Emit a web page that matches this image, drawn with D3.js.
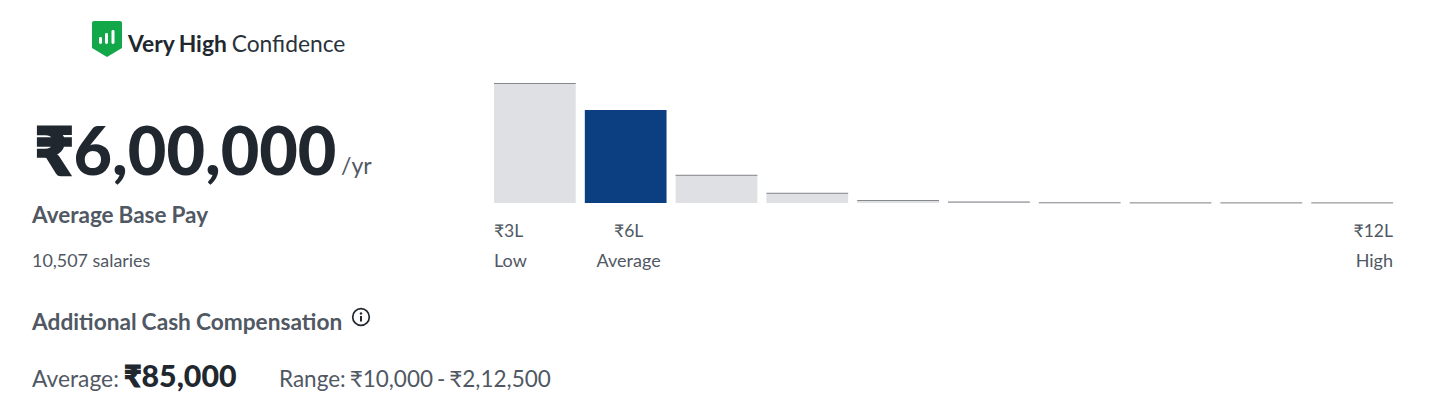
<!DOCTYPE html>
<html><head><meta charset="utf-8">
<script src="https://cdn.jsdelivr.net/npm/d3@7/dist/d3.min.js"></script>
<style>
html,body{margin:0;padding:0;background:#fff;overflow:hidden}
svg{display:block}
text{font-family:Lato,"Open Sans",sans-serif}
</style></head><body>
<div id="chart"></div>
<script>
const bins = ["b1","b2","b3","b4","b5","b6","b7","b8","b9","b10"];
const shares = [100, 77.5, 23.5, 8.5, 2.5, 1.2, 0.6, 0.5, 0.5, 0.5];
const highlightBin = "b2";
const axisLabels = ["₹3L","₹6L","₹12L"];
const axisRoles = ["Low","Average","High"];
const W=1434,H=408;
const svg=d3.select("#chart").append("svg").attr("width",W).attr("height",H);
const x=d3.scaleBand().domain(bins).range([494,1393]).paddingInner(0.1);
const y=d3.scaleLinear().domain([0,100]).range([203,83]);
svg.selectAll("rect.bar").data(bins).join("rect").attr("class","bar")
  .attr("x",d=>x(d)).attr("width",x.bandwidth())
  .attr("y",(d,i)=>y(shares[i])).attr("height",(d,i)=>y(0)-y(shares[i]))
  .attr("fill",d=>d===highlightBin?"#0c3e82":"#dfe0e3");
svg.selectAll("rect.cap").data(bins.filter(d=>d!==highlightBin)).join("rect").attr("class","cap")
  .attr("x",d=>x(d)).attr("width",x.bandwidth())
  .attr("y",d=>y(shares[bins.indexOf(d)])).attr("height",1)
  .attr("fill","#85888c");
function t(s,px,py,size,weight,fill,anchor){
  return svg.append("text").text(s).attr("x",px).attr("y",py).attr("font-size",size)
    .attr("font-weight",weight).attr("fill",fill).attr("text-anchor",anchor||"start");
}
function heavy(rupeeStroke,px,py,size,rest){
  const n=t("",px,py,size,900,"#20272f");
  n.append("tspan").text("₹").attr("stroke","#20272f").attr("stroke-width",rupeeStroke);
  n.append("tspan").text(rest);
  return n;
}
const labelC="#505863";
const ax=[[494,"start"],[x("b2")+x.bandwidth()/2+3,"middle"],[1393,"end"]];
axisLabels.forEach((s,i)=>t(s,ax[i][0],237,17.5,400,labelC,ax[i][1]));
axisRoles.forEach((s,i)=>t(s,ax[i][0],267,18,400,labelC,ax[i][1]));

// confidence badge
const g=svg.append("g");
g.append("path").attr("d","M94 21 H120 Q122 21 122 23 V48 L107 57 L92 48 V23 Q92 21 94 21 Z").attr("fill","#12a84a");
[[99,37,3,7],[105,33,3,11],[111.5,30,3,14]].forEach(b=>g.append("rect").attr("x",b[0]).attr("y",b[1]).attr("width",b[2]).attr("height",b[3]).attr("rx",1.4).attr("fill","#fff"));
const c=t("",128,52,22.8,400,"#20272f").attr("word-spacing",-1);
c.append("tspan").text("Very High").attr("font-weight",700);
c.append("tspan").text(" Confidence").attr("fill","#2a323b");

heavy(2.5,35,175,66.5,"6,00,000");
t("/yr",341,174,23,400,"#505863");
t("Average Base Pay",32,223,22.5,700,"#505863").attr("word-spacing",-0.5);
t("10,507 salaries",32,267,17.9,400,labelC);
t("Additional Cash Compensation",32,330,22.7,700,"#505863").attr("word-spacing",-0.5);
const ig=svg.append("g").attr("transform","translate(361,317)");
ig.append("circle").attr("r",8.3).attr("fill","none").attr("stroke","#20272f").attr("stroke-width",1.7);
ig.append("rect").attr("x",-1).attr("y",-1).attr("width",2).attr("height",5.5).attr("fill","#20272f");
ig.append("circle").attr("cy",-3.5).attr("r",1.2).attr("fill","#20272f");
t("Average:",32,387,22.8,400,labelC);
heavy(1,124,387,30.3,"85,000");
t("Range: ₹10,000 - ₹2,12,500",279,387,22.5,400,labelC).attr("word-spacing",-1.8);
</script></body></html>
